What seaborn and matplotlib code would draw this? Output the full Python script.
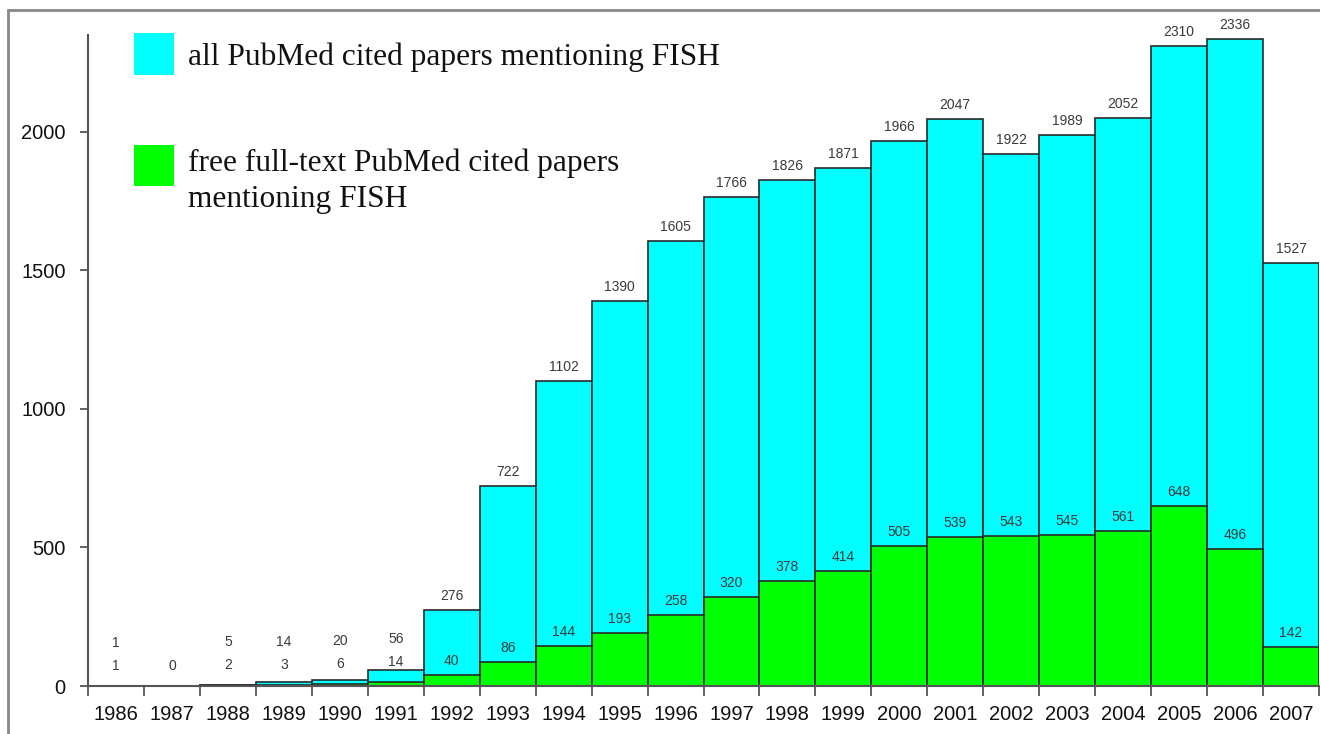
import matplotlib
matplotlib.use("Agg")
import matplotlib.pyplot as plt
from matplotlib.patches import Rectangle
from matplotlib.lines import Line2D
from matplotlib.ticker import FixedLocator
import numpy as np
import seaborn as sns

years = [1986, 1987, 1988, 1989, 1990, 1991, 1992, 1993, 1994, 1995, 1996,
         1997, 1998, 1999, 2000, 2001, 2002, 2003, 2004, 2005, 2006, 2007]
all_papers = [1, 0, 5, 14, 20, 56, 276, 722, 1102, 1390, 1605,
              1766, 1826, 1871, 1966, 2047, 1922, 1989, 2052, 2310, 2336, 1527]
free_papers = [1, 0, 2, 3, 6, 14, 40, 86, 144, 193, 258,
               320, 378, 414, 505, 539, 543, 545, 561, 648, 496, 142]
y_ticks = [0, 500, 1000, 1500, 2000]

labels_all = "all PubMed cited papers mentioning FISH"
labels_free = "free full-text PubMed cited papers\nmentioning FISH"

CYAN = "#00FFFF"
GREEN = "#00FF00"
EDGE = "#2a2a2a"

sns.set_style("white")
plt.rcParams["font.family"] = ["Liberation Sans", "DejaVu Sans"]

W, H = 1320, 734
fig = plt.figure(figsize=(W / 100, H / 100), dpi=100)
ax = fig.add_axes([88 / W, (H - 686) / H, 1231 / W, 651 / H])

year_lbl = [str(y) for y in years]
sns.barplot(x=year_lbl, y=all_papers, color=CYAN, saturation=1, width=1,
            edgecolor=EDGE, linewidth=1.2, ax=ax)
sns.barplot(x=year_lbl, y=free_papers, color=GREEN, saturation=1, width=1,
            edgecolor=EDGE, linewidth=1.2, ax=ax)

ymax = 2350
ax.set_xlim(-0.5, len(years) - 0.5)
ax.set_ylim(0, ymax)
ax.set_xlabel("")
ax.set_ylabel("")

# value labels, offsets in pixels converted to data units
upp = ymax / 651.0
for i, (a, g) in enumerate(zip(all_papers, free_papers)):
    gl = g + 14 * upp
    if g < 20:
        gl += 6 * upp
    ax.text(i, gl, str(g), ha="center", va="center", fontsize=10, color="#3a3a3a")
    if a > 0:
        cl = max(a + 14 * upp, gl + 23 * upp)
        ax.text(i, cl, str(a), ha="center", va="center", fontsize=10, color="#3a3a3a")

# axes styling
for s in ["top", "right"]:
    ax.spines[s].set_visible(False)
for s in ["left", "bottom"]:
    ax.spines[s].set_color("#555555")
    ax.spines[s].set_linewidth(1.5)

ax.set_yticks(y_ticks)
ax.tick_params(axis="y", direction="out", length=6, width=1.3, color="#555555",
               labelsize=14.5, pad=10, left=True)
ax.tick_params(axis="x", which="major", length=0, labelsize=14.5, pad=14)
ax.xaxis.set_minor_locator(FixedLocator(np.arange(-0.5, len(years), 1.0)))
ax.tick_params(axis="x", which="minor", direction="out", length=7, width=1.3,
               color="#555555", bottom=True)
for t in ax.get_xticklabels() + ax.get_yticklabels():
    t.set_color("#111111")


def px(x, y):
    return x / W, 1 - y / H


# legend drawn by hand
x0, y0 = px(134, 75)
fig.add_artist(Rectangle((x0, y0), 40 / W, 42 / H, transform=fig.transFigure,
                         facecolor=CYAN, edgecolor="none"))
x0, y0 = px(134, 186)
fig.add_artist(Rectangle((x0, y0), 40 / W, 41 / H, transform=fig.transFigure,
                         facecolor=GREEN, edgecolor="none"))
serif = ["Liberation Serif", "DejaVu Serif"]
fig.text(*px(188, 57), labels_all, family=serif, fontsize=22.6, va="center", ha="left",
         color="#111111")
fig.text(*px(188, 181), labels_free, family=serif, fontsize=22.6, va="center", ha="left",
         linespacing=1.32, color="#111111")

# frame of the cropped screenshot
fig.add_artist(Line2D([8 / W, 1], [1 - 10 / H, 1 - 10 / H], transform=fig.transFigure,
                      color="#888888", lw=2))
fig.add_artist(Line2D([8 / W, 8 / W], [0, 1 - 10 / H], transform=fig.transFigure,
                      color="#888888", lw=2))

fig.savefig("out.png", dpi=100)
